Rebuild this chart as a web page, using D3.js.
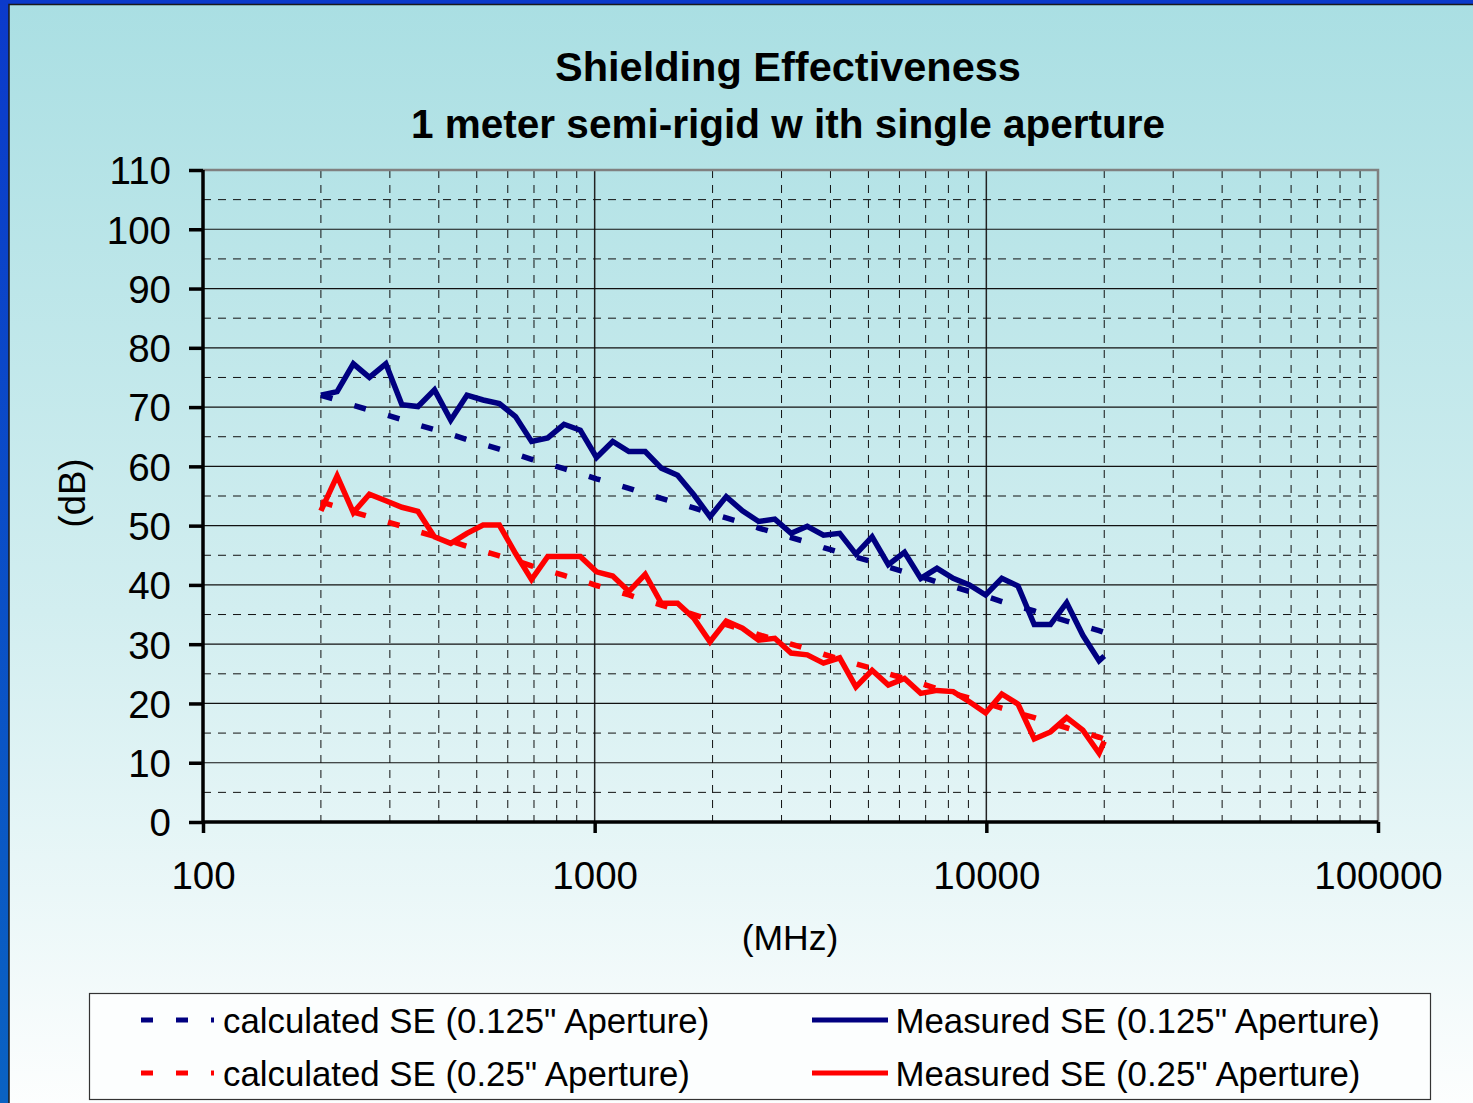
<!DOCTYPE html>
<html><head><meta charset="utf-8">
<script src="https://cdn.jsdelivr.net/npm/d3@7"></script>
<style>
html,body{margin:0;padding:0;overflow:hidden;background:#fff}
svg{display:block}
text{font-family:"Liberation Sans",Arial,sans-serif;fill:#000}
</style></head><body>
<svg id="c" width="1473" height="1103"></svg>
<script>
// ---- data ----
const titleLines = ["Shielding Effectiveness", "1 meter semi-rigid w ith single aperture"];
const xLabel = "(MHz)";
const yLabel = "(dB)";
const xTicks = [100, 1000, 10000, 100000];
const yTicks = [0,10,20,30,40,50,60,70,80,90,100,110];
const freqMHz = [200,220,242,266,293,322,354,390,429,472,519,571,628,690,759,835,919,1011,1112,1223,
  1346,1480,1628,1791,1970,2167,2384,2622,2884,3173,3490,3839,4223,4645,5109,5620,6182,6801,7481,8229,
  9052,9957,10952,12048,13252,14578,16035,17639,19403,20000];
const calcSE0125 = [72.0,71.2,70.3,69.5,68.7,67.9,67.0,66.2,65.4,64.5,63.7,62.9,62.1,61.2,60.4,59.6,58.8,57.9,57.1,56.3,
  55.4,54.6,53.8,53.0,52.1,51.3,50.5,49.6,48.8,48.0,47.2,46.3,45.5,44.7,43.9,43.0,42.2,41.4,40.5,39.7,
  38.9,38.1,37.2,36.4,35.6,34.7,33.9,33.1,32.3,32.0];
const calcSE025 = [54.0,53.2,52.3,51.5,50.7,49.9,49.0,48.2,47.4,46.5,45.7,44.9,44.1,43.2,42.4,41.6,40.8,39.9,39.1,38.3,
  37.4,36.6,35.8,35.0,34.1,33.3,32.5,31.6,30.8,30.0,29.2,28.3,27.5,26.7,25.9,25.0,24.2,23.4,22.5,21.7,
  20.9,20.1,19.2,18.4,17.6,16.7,15.9,15.1,14.3,14.0];
const measSE0125 = [72.0,72.6,77.3,75.0,77.3,70.4,70.1,72.9,67.8,72.0,71.2,70.6,68.4,64.2,64.8,67.1,66.1,61.5,64.2,62.5,
  62.5,59.7,58.5,55.2,51.5,54.9,52.5,50.7,51.1,48.7,49.9,48.4,48.7,45.2,48.1,43.4,45.5,41.1,42.8,41.1,
  40.0,38.3,41.1,39.8,33.3,33.3,37.0,31.5,27.2,28.0];
const measSE025 = [52.5,58.4,52.2,55.3,54.2,53.1,52.4,48.1,47.0,48.7,50.1,50.1,45.3,40.9,44.8,44.8,44.8,42.2,41.5,38.9,
  41.8,36.9,36.9,34.4,30.4,33.9,32.7,30.7,31.0,28.5,28.2,26.8,27.7,22.8,25.6,23.1,24.2,21.7,22.2,22.0,
  20.3,18.4,21.6,19.9,14.0,15.2,17.6,15.5,11.6,13.6];
const seriesNames = ['calculated SE (0.125" Aperture)','calculated SE (0.25" Aperture)',
  'Measured SE (0.125" Aperture)','Measured SE (0.25" Aperture)'];
const seriesColors = ["#000080","#FF0000","#000080","#FF0000"];
const seriesDashed = [true,true,false,false];
const seriesValues = [calcSE0125, calcSE025, measSE0125, measSE025];

// ---- layout ----
const W = 1473, H = 1103;
const svg = d3.select("#c");
const defs = svg.append("defs");
const bg = defs.append("linearGradient").attr("id","bg").attr("x1",0).attr("y1",0).attr("x2",0).attr("y2",1);
bg.append("stop").attr("offset","0%").attr("stop-color","#AADFE3");
bg.append("stop").attr("offset","55%").attr("stop-color","#D2EEF0");
bg.append("stop").attr("offset","100%").attr("stop-color","#FDFEFE");
const fr = defs.append("linearGradient").attr("id","fr").attr("x1",0).attr("y1",0).attr("x2",0).attr("y2",1);
fr.append("stop").attr("offset","0%").attr("stop-color","#0B3ACB");
fr.append("stop").attr("offset","100%").attr("stop-color","#0A62C2");

svg.append("rect").attr("x",0).attr("y",0).attr("width",W).attr("height",H).attr("fill","url(#fr)");
svg.append("rect").attr("x",9).attr("y",4.5).attr("width",W).attr("height",H).attr("fill","url(#bg)")
  .attr("stroke","#1a1a1a").attr("stroke-width",1.5);

const x = d3.scaleLog().domain([100,100000]).range([203,1378]);
const y = d3.scaleLinear().domain([0,110]).range([822,170]);

// title
svg.append("g").selectAll("text").data(titleLines).join("text")
  .attr("x",788).attr("y",(d,i)=>81+i*57).attr("text-anchor","middle")
  .attr("font-size",(d,i)=>i===0?41.5:40.5).attr("font-weight","bold").text(d=>d);

// gridlines
const grid = svg.append("g");
const minorX = [];
[100,1000,10000].forEach(dec=>{ for(let m=2;m<=9;m++) minorX.push(dec*m); });
grid.selectAll(".vmin").data(minorX).join("line")
  .attr("x1",d=>x(d)).attr("x2",d=>x(d)).attr("y1",y(110)).attr("y2",y(0))
  .attr("stroke","#111").attr("stroke-width",1).attr("stroke-dasharray","8,7");
grid.selectAll(".vmaj").data([1000,10000]).join("line")
  .attr("x1",d=>x(d)).attr("x2",d=>x(d)).attr("y1",y(110)).attr("y2",y(0))
  .attr("stroke","#222").attr("stroke-width",1.5);
const minorY = d3.range(5,110,10);
grid.selectAll(".hmin").data(minorY).join("line")
  .attr("x1",x(100)).attr("x2",x(100000)).attr("y1",d=>y(d)).attr("y2",d=>y(d))
  .attr("stroke","#111").attr("stroke-width",1).attr("stroke-dasharray","8,7");
grid.selectAll(".hmaj").data(yTicks.filter(v=>v>0&&v<110)).join("line")
  .attr("x1",x(100)).attr("x2",x(100000)).attr("y1",d=>y(d)).attr("y2",d=>y(d))
  .attr("stroke","#111").attr("stroke-width",1.2);

// plot border (top/right)
svg.append("path").attr("d",`M${x(100)},${y(110)}H${x(100000)}V${y(0)}`)
  .attr("fill","none").attr("stroke","#808080").attr("stroke-width",2.5);

// axes
const yAxis = d3.axisLeft(y).tickValues(yTicks).tickSize(14).tickPadding(18).tickFormat(d3.format("d"));
const gy = svg.append("g").attr("transform",`translate(${x(100)},0)`).call(yAxis);
const xAxis = d3.axisBottom(x).tickValues(xTicks).tickSize(11).tickPadding(29).tickFormat(d3.format("d"));
const gx = svg.append("g").attr("transform",`translate(0,${y(0)})`).call(xAxis);
[gx,gy].forEach(g=>{
  g.select(".domain").attr("stroke","#000").attr("stroke-width",3.5);
  g.selectAll(".tick line").attr("stroke","#000").attr("stroke-width",3.5);
  g.selectAll(".tick text").attr("font-size",38.5).attr("fill","#000")
    .attr("font-family",'"Liberation Sans",Arial,sans-serif');
});
gy.selectAll(".tick text").attr("dy","0.36em");
gx.selectAll(".tick text").attr("dy","0.71em");
gx.select(".domain").attr("d",`M${x(100)},0H${x(100000)}`);
gy.select(".domain").attr("d",`M0,${y(110)}V${y(0)}`);

// axis labels
svg.append("text").attr("x",790).attr("y",950).attr("text-anchor","middle").attr("font-size",35.5).text(xLabel);
svg.append("text").attr("transform","translate(85,493) rotate(-90)").attr("text-anchor","middle")
  .attr("font-size",36.5).text(yLabel);

// series
const line = d3.line().x(d=>x(d[0])).y(d=>y(d[1]));
const order = [0,1,2,3];
svg.append("g").selectAll("path").data(order).join("path")
  .attr("d",i=>line(freqMHz.map((f,j)=>[f,seriesValues[i][j]])))
  .attr("fill","none").attr("stroke",i=>seriesColors[i]).attr("stroke-width",5.5)
  .attr("stroke-linejoin","miter").attr("stroke-miterlimit",3)
  .attr("stroke-dasharray",i=>seriesDashed[i]?"12,23":null);

// legend
const lg = svg.append("g");
lg.append("rect").attr("x",89.5).attr("y",993.5).attr("width",1341).attr("height",106)
  .attr("fill","#fcfefe").attr("stroke","#333").attr("stroke-width",1.2);
const legPos = [{lx:141,tx:223,y:1020},{lx:141,tx:223,y:1073},{lx:812,tx:895.5,y:1020},{lx:812,tx:895.5,y:1073}];
legPos.forEach((p,i)=>{
  lg.append("line").attr("x1",p.lx).attr("x2",seriesDashed[i]?p.lx+73:p.lx+76).attr("y1",p.y).attr("y2",p.y)
    .attr("stroke",seriesColors[i]).attr("stroke-width",5)
    .attr("stroke-dasharray",seriesDashed[i]?"12,23":null);
  lg.append("text").attr("x",p.tx).attr("y",p.y+12.5).attr("font-size",34.8).text(seriesNames[i]);
});
</script>
</body></html>
